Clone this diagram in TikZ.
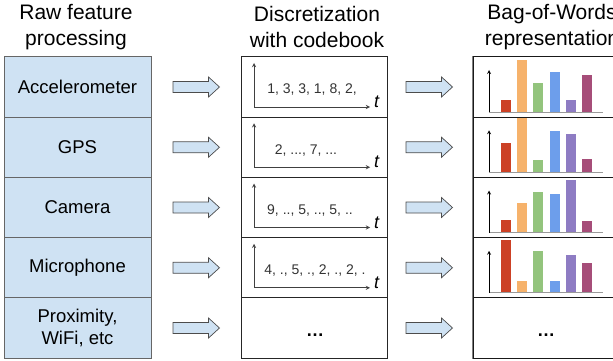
\documentclass[tikz,border=0pt]{standalone}
\usepackage{fontspec}
\setmainfont{Liberation Sans}
\usepackage{tikz}
\usetikzlibrary{arrows}
\definecolor{cellblue}{HTML}{CFE2F3}
\definecolor{barc0}{HTML}{CC4125}
\definecolor{barc1}{HTML}{F6B26B}
\definecolor{barc2}{HTML}{93C47D}
\definecolor{barc3}{HTML}{6D9EEB}
\definecolor{barc4}{HTML}{8E7CC3}
\definecolor{barc5}{HTML}{A64D79}

\begin{document}
\begin{tikzpicture}[x=1pt, y=-1pt,
	sensor/.style = {draw=black!60, fill=cellblue, line width=.8pt, minimum width=147pt, minimum height=60.25pt, align=center, font=\fontsize{18.5}{22}\selectfont},
	codecell/.style = {draw=black!85, line width=.8pt, minimum width=146pt, minimum height=60.25pt},
	bowcell/.style = {draw=black!90, line width=1.2pt, minimum width=170pt, minimum height=60.25pt},
	blockarrow/.style = {draw=black!70, fill=cellblue, line width=.7pt},
	head/.style = {align=center, font=\fontsize{21}{26}\selectfont},
	code/.style = {text=black!80, font=\fontsize{14}{16}\selectfont}]
	\useasboundingbox (0,0) rectangle (613,361);

	\node[head] (hraw) at (76,27) {Raw feature\\processing};
	\node[head] (hdisc) at (317,27) {Discretization\\with codebook};
	\node[head] (hbow) at (552,27) {Bag-of-Words\\representation};

	\foreach \nm/\lab [count=\i from 0] in {acc/Accelerometer, gps/GPS, cam/Camera, mic/Microphone, prox/{Proximity,\\WiFi, etc}} {
		\node[sensor] (\nm) at (77.5, 87+60.25*\i) {\lab};
		\node[codecell] (c\i) at (314, 87+60.25*\i) {};
		\node[bowcell] (b\i) at (558, 87+60.25*\i) {};
		\foreach \ax in {173, 406}
			\draw[blockarrow] (\ax, 81.5+60.25*\i) -- ++(35.5,0) -- ++(0,-4.5) -- ++(11,10) -- ++(-11,10) -- ++(0,-4.5) -- ++(-35.5,0) -- cycle;
	}
	\draw[black!50, line width=1.2pt] (b0.north west) -- (b4.south west);

	% time axes
	\foreach \i in {0,...,3} {
		\draw[black!75, line width=.9pt, -stealth] (254, 57+60.25*\i+50) -- (254, 57+60.25*\i+6);
		\draw[black!75, line width=.9pt, -stealth] (254, 57+60.25*\i+50) -- (370, 57+60.25*\i+50);
		\node[font=\fontsize{18}{20}\selectfont] (t\i) at (377, 57+60.25*\i+45) {\textit{t}};
	}
	\node[code] (w0) at (312,90) {1, 3, 3, 1, 8, 2,};
	\node[code] (w1) at (306,151) {2, ..., 7, ...};
	\node[code] (w2) at (310,211) {9, .., 5, .., 5, ..};
	\node[code] (w3) at (315,271) {4, ., 5, ., 2, ., 2, .};
	\node[font=\fontsize{18}{20}\selectfont\bfseries] (d0) at (315,335) {…};

	% histograms
	\foreach \hs [count=\i from 0] in {{12,52,29,40,12,37},{29,54,12,41,38,13},{13,30,41,39,53,12},{53,12,42,12,38,30}} {
		\foreach \h [count=\k from 0] in \hs
			\fill[barc\k] (501+16.2*\k, 57+60.25*\i+55) rectangle ++(10,-\h);
		\draw[black!40, line width=1pt] (489, 57+60.25*\i+55) -- (603, 57+60.25*\i+55);
		\draw[black, line width=.8pt, -stealth] (489, 57+60.25*\i+55) -- (489, 57+60.25*\i+13);
	}
	\node[font=\fontsize{18}{20}\selectfont\bfseries] (d1) at (546,335) {…};
\end{tikzpicture}
\end{document}
